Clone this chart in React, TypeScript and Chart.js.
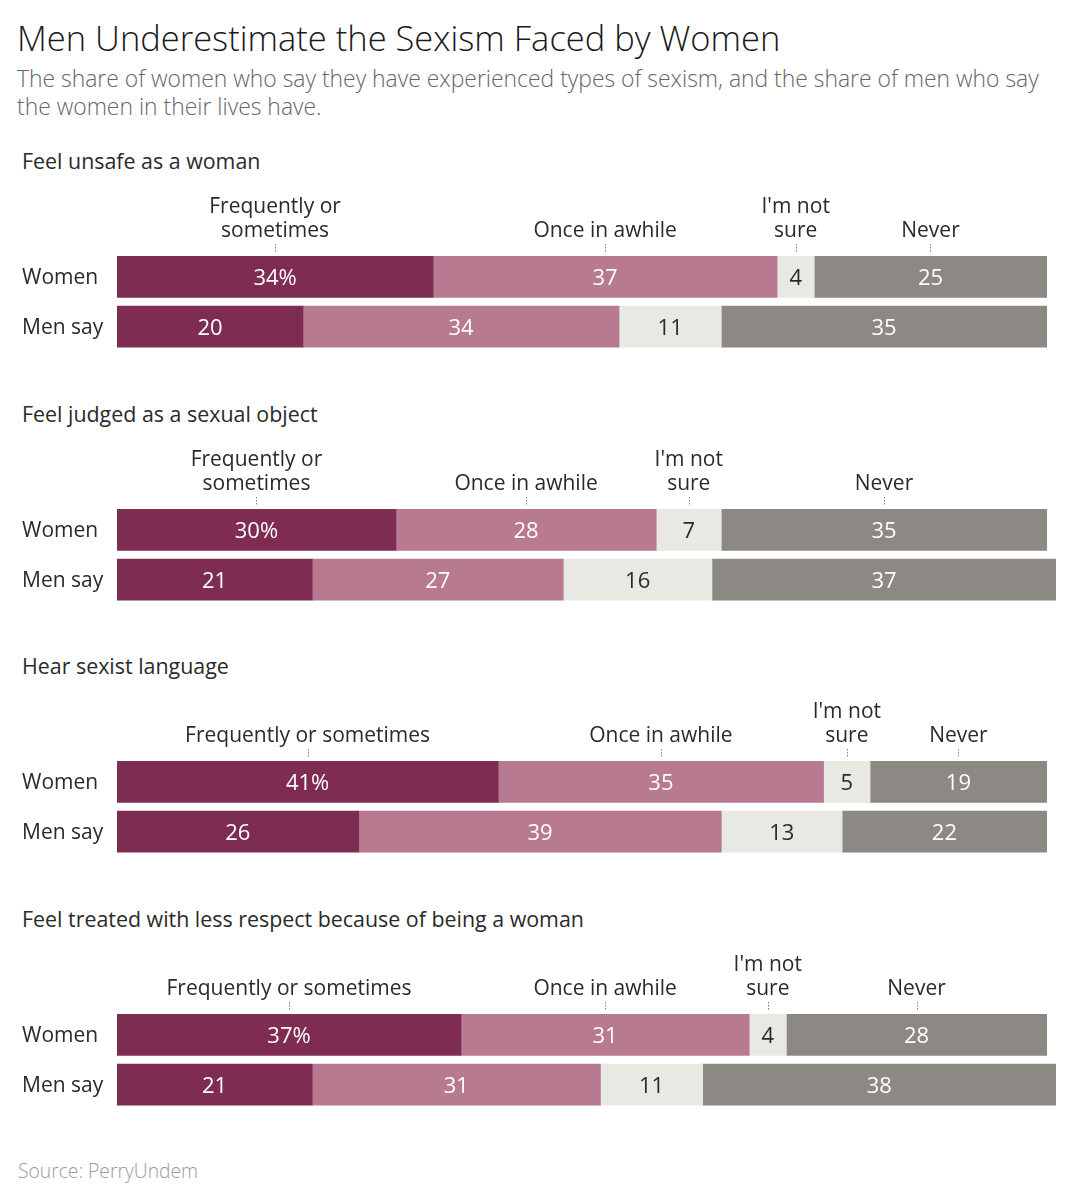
import React, { useEffect, useRef } from "react";
import { Chart, registerables } from "chart.js";

Chart.register(...registerables);

const chartTitle = "Men Underestimate the Sexism Faced by Women";
const subtitleLines = [
  "The share of women who say they have experienced types of sexism, and the share of men who say",
  "the women in their lives have.",
];
const sourceText = "Source: PerryUndem";
const panelTitles = [
  "Feel unsafe as a woman",
  "Feel judged as a sexual object",
  "Hear sexist language",
  "Feel treated with less respect because of being a woman",
];
const rowLabels = ["Women", "Men say"];
const responseLabels = ["Frequently or sometimes", "Once in awhile", "I'm not sure", "Never"];
const womenValues = [
  [34, 37, 4, 25],
  [30, 28, 7, 35],
  [41, 35, 5, 19],
  [37, 31, 4, 28],
];
const menValues = [
  [20, 34, 11, 35],
  [21, 27, 16, 37],
  [26, 39, 13, 22],
  [21, 31, 11, 38],
];

const segmentColors = ["#7e2c51", "#b87a90", "#e9e9e4", "#8c8884"];
const segmentTextColors = ["#ffffff", "#ffffff", "#2a2a2a", "#ffffff"];
const FONT = "'Open Sans', 'Noto Sans', sans-serif";

const allTotals = [...womenValues, ...menValues].map((r) => r.reduce((a, b) => a + b, 0));
const scaleMax = Math.max(...allTotals);

function splitLabel(ctx: CanvasRenderingContext2D, text: string, segW: number): string[] {
  const w = ctx.measureText(text).width;
  if (w <= segW * 0.75) return [text];
  const spaces: number[] = [];
  for (let i = 0; i < text.length; i++) if (text[i] === " ") spaces.push(i);
  if (!spaces.length) return [text];
  const mid = text.length / 2;
  let best = spaces[0];
  for (const s of spaces) {
    if (Math.abs(s - mid) <= Math.abs(best - mid)) best = s;
  }
  return [text.slice(0, best), text.slice(best + 1)];
}

const segmentLabelPlugin = {
  id: "segmentLabels",
  afterDatasetsDraw(chart: any) {
    const ctx: CanvasRenderingContext2D = chart.ctx;
    ctx.save();
    ctx.textAlign = "center";
    ctx.textBaseline = "middle";
    chart.data.datasets.forEach((ds: any, di: number) => {
      const meta = chart.getDatasetMeta(di);
      meta.data.forEach((bar: any, ri: number) => {
        const p = bar.getProps(["x", "y", "base", "height"], true);
        const cx = (p.x + p.base) / 2;
        const v = ds.data[ri];
        const txt = ri === 0 && di === 0 ? `${v}%` : `${v}`;
        ctx.font = `22px ${FONT}`;
        ctx.fillStyle = segmentTextColors[di];
        ctx.fillText(txt, cx, p.y + 2);
        if (ri === 0) {
          ctx.font = `21px ${FONT}`;
          const top = p.y - p.height / 2;
          const segW = Math.abs(p.x - p.base);
          const lines = splitLabel(ctx, responseLabels[di], segW);
          ctx.fillStyle = "#2a2a2a";
          lines.forEach((ln, li) => {
            ctx.fillText(ln, cx, top - 25 - (lines.length - 1 - li) * 24);
          });
          ctx.strokeStyle = "#444";
          ctx.lineWidth = 1;
          ctx.setLineDash([1, 2]);
          ctx.beginPath();
          const lx = Math.round(cx) + 0.5;
          ctx.moveTo(lx, top - 12);
          ctx.lineTo(lx, top - 3);
          ctx.stroke();
          ctx.setLineDash([]);
        }
      });
    });
    ctx.restore();
  },
};

const CANVAS_W = 1074;
const CANVAS_H = 189;

function Panel({ index }: { index: number }) {
  const ref = useRef<HTMLCanvasElement>(null);
  useEffect(() => {
    if (!ref.current) return;
    const chart = new Chart(ref.current, {
      type: "bar",
      data: {
        labels: rowLabels,
        datasets: responseLabels.map((lab, di) => ({
          label: lab,
          data: [womenValues[index][di], menValues[index][di]],
          backgroundColor: segmentColors[di],
          borderWidth: 0,
          barThickness: 41,
        })),
      },
      options: {
        indexAxis: "y",
        responsive: false,
        animation: false,
        layout: { padding: { left: 14, right: 26, top: 77, bottom: 6 } },
        plugins: { legend: { display: false }, tooltip: { enabled: false } },
        scales: {
          x: { stacked: true, min: 0, max: scaleMax, display: false },
          y: {
            stacked: true,
            grid: { display: false },
            border: { display: false },
            afterFit: (scale: any) => {
              scale.width = 95;
            },
            ticks: {
              crossAlign: "far",
              padding: 0,
              labelOffset: 1.5,
              color: "#2a2a2a",
              font: { family: FONT, size: 21 },
            },
          },
        },
      },
      plugins: [segmentLabelPlugin],
    } as any);
    return () => chart.destroy();
  }, [index]);
  const offset = Math.round(index * 252.5);
  return (
    <>
      <div
        style={{
          position: "absolute",
          left: 14,
          top: 141 + offset,
          fontFamily: FONT,
          fontSize: 21.4,
          lineHeight: "24px",
          color: "#2a2a2a",
          whiteSpace: "nowrap",
        }}
      >
        {panelTitles[index]}
      </div>
      <canvas
        ref={ref}
        width={CANVAS_W}
        height={CANVAS_H}
        style={{ position: "absolute", left: 0, top: 167 + offset, width: CANVAS_W, height: CANVAS_H }}
      />
    </>
  );
}

export default function App() {
  return (
    <div style={{ position: "relative", width: 1074, height: 1184, background: "#fff" }}>
      <div
        style={{
          position: "absolute",
          left: 9,
          top: 10,
          fontFamily: FONT,
          fontWeight: 300,
          fontSize: 34.5,
          lineHeight: "40px",
          color: "#1a1a1a",
          whiteSpace: "nowrap",
        }}
      >
        {chartTitle}
      </div>
      <div
        style={{
          position: "absolute",
          left: 9,
          top: 57,
          fontFamily: FONT,
          fontWeight: 300,
          fontSize: 22.9,
          lineHeight: "28px",
          color: "#666",
          whiteSpace: "nowrap",
        }}
      >
        {subtitleLines.map((l, i) => (
          <div key={i}>{l}</div>
        ))}
      </div>
      {panelTitles.map((_, i) => (
        <Panel key={i} index={i} />
      ))}
      <div
        style={{
          position: "absolute",
          left: 10,
          top: 1152,
          fontFamily: FONT,
          fontWeight: 300,
          fontSize: 19.3,
          lineHeight: "22px",
          color: "#9a9a9a",
          whiteSpace: "nowrap",
        }}
      >
        {sourceText}
      </div>
    </div>
  );
}
